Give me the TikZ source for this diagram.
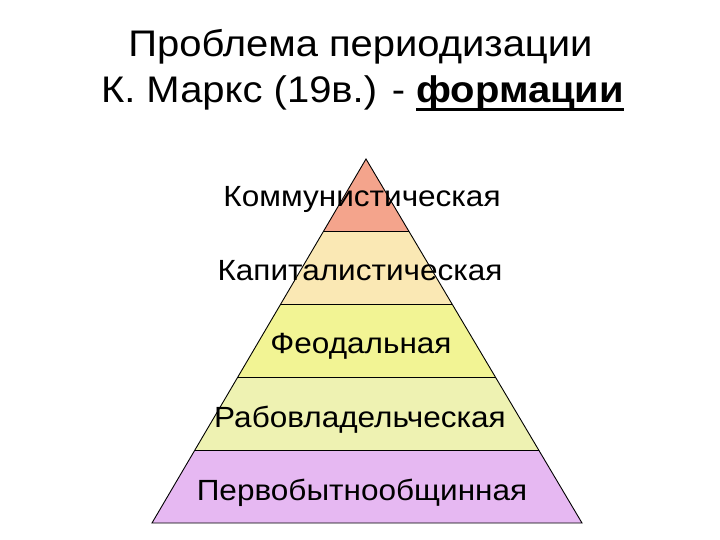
\documentclass[tikz,border=0pt]{standalone}
\usepackage{fontspec}
\setmainfont[FakeStretch=1.08]{Liberation Sans}
\usetikzlibrary{calc}
\definecolor{lay1}{HTML}{F4A48C}
\definecolor{lay2}{HTML}{FAE8B4}
\definecolor{lay3}{HTML}{F2F494}
\definecolor{lay4}{HTML}{EEF2B2}
\definecolor{lay5}{HTML}{E6B8F2}
\newcommand\myuline[1]{\setbox0\hbox{#1}\makebox[0pt][l]{\rule[-8.5pt]{\wd0}{3pt}}\box0}
\tikzset{
  title/.style={anchor=base, inner sep=0pt, font=\fontsize{37}{44}\selectfont},
  layertext/.style={anchor=base, inner sep=0pt, font=\fontsize{29.2}{35}\selectfont},
  edge/.style={draw=black, line width=0.9pt, line join=miter}
}
\begin{document}
\begin{tikzpicture}[x=1pt,y=-1pt]
\useasboundingbox (0,0) rectangle (720,540);
\fill[white] (0,0) rectangle (720,540);
\coordinate (A) at (366,159);
\coordinate (L) at (152,523);
\coordinate (R) at (582,523);
\foreach \t in {1,2,3,4} {
  \coordinate (L\t) at ($(A)!\t*0.2!(L)$);
  \coordinate (R\t) at ($(A)!\t*0.2!(R)$);
}
\fill[lay1] (A) -- (R1) -- (L1) -- cycle;
\fill[lay2] (L1) -- (R1) -- (R2) -- (L2) -- cycle;
\fill[lay3] (L2) -- (R2) -- (R3) -- (L3) -- cycle;
\fill[lay4] (L3) -- (R3) -- (R4) -- (L4) -- cycle;
\fill[lay5] (L4) -- (R4) -- (R) -- (L) -- cycle;
\draw[edge] (A) -- (R) -- (L) -- cycle;
\foreach \t in {1,2,3,4} { \draw[edge] (L\t) -- (R\t); }
\node[title] (t1) at (360.5,57) {Проблема периодизации};
\node[title] (t2) at (362.5,103) {К. Маркс (19в.) - \myuline{\textbf{формации}}};
\node[layertext] (n1) at (362,207) {Коммунистическая};
\node[layertext] (n2) at (360,280) {Капиталистическая};
\node[layertext] (n3) at (361,353) {Феодальная};
\node[layertext] (n4) at (360,427) {Рабовладельческая};
\node[layertext] (n5) at (362,500) {Первобытнообщинная};
\end{tikzpicture}
\end{document}
